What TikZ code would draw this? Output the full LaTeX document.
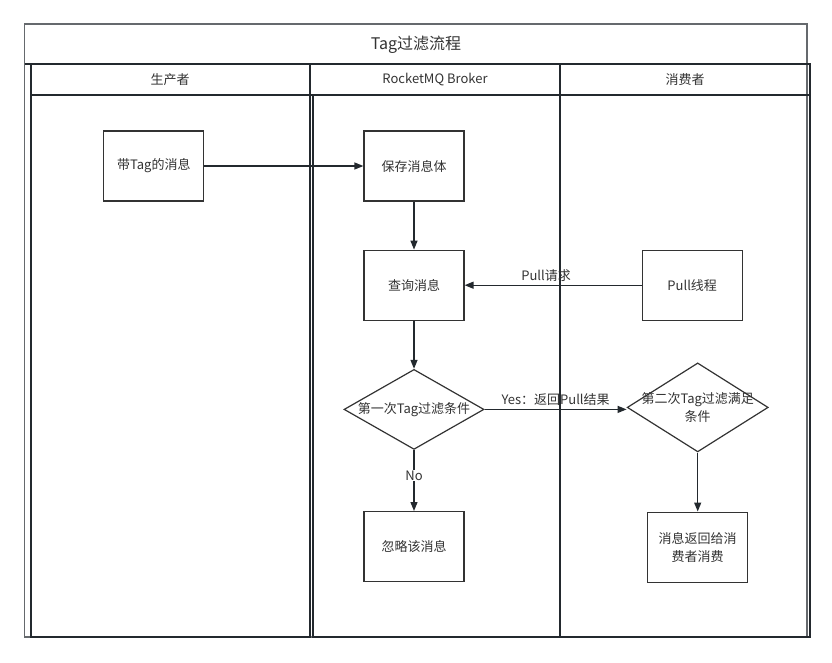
\documentclass[tikz,border=0pt]{standalone}
\usepackage{fontspec}
\setmainfont{Noto Sans CJK SC}
\usetikzlibrary{shapes,arrows.meta,positioning}
\definecolor{framecol}{HTML}{23292E}
\definecolor{textcol}{HTML}{333333}

\begin{document}
\begin{tikzpicture}[x=1pt, y=-1pt, node distance=50pt,
        font=\fontsize{13}{18}\selectfont, text=textcol,
        lane/.style={draw=framecol, line width=1.6pt},
        block/.style={rectangle, draw=textcol, line width=1.2pt, fill=white, minimum width=100pt, minimum height=70pt, align=center},
        decision/.style={diamond, draw=textcol, line width=1.2pt, fill=white, minimum width=140pt, minimum height=80pt, inner xsep=-30pt, inner ysep=-10pt, align=center},
        line/.style={draw=framecol, line width=1.3pt, -{Triangle[length=9pt,width=7pt]}}]

        \useasboundingbox (0,0) rectangle (832,662);

        % pool and lanes
        \draw [lane, draw=framecol!70] (24.5,24) rectangle (807,637);
        \draw [lane] (24.5,64) -- (807,64);
        \draw [lane] (31,64) rectangle (310,637);
        \draw [lane] (31,95) -- (810,95);
        \draw [lane] (310,64) rectangle (560,95);
        \draw [lane] (313,95) rectangle (560,637);
        \draw [lane] (560,64) rectangle (810,637);
        \node (title) at (416,45) {\fontsize{16}{20}\selectfont Tag过滤流程};
        \node (lane1) at (170,80) {生产者};
        \node (lane2) at (435,80) {RocketMQ Broker};
        \node (lane3) at (685,80) {消费者};

        \node [block] (save) at (414,166) {保存消息体};
        \node [block, left=159pt of save] (tagmsg) {带Tag的消息};
        \node [block, below=48pt of save] (query) {查询消息};
        \node [block, right=177pt of query] (pull) {Pull线程};
        \node [decision, below=48pt of query] (filter1) {第一次Tag过滤条件};
        \node [block, below=61pt of filter1] (ignore) {忽略该消息};
        \node [decision, right=142pt of filter1, minimum width=141pt, minimum height=89pt, yshift=2pt] (filter2) {第二次Tag过滤满足\\条件};
        \node [block, below=59pt of filter2] (consume) {消息返回给消\\费者消费};

        \path [line] (tagmsg) -- (save);
        \path [line] (save) -- (query);
        \path [line] (pull) -- node [above, pos=0.54] {Pull请求} (query);
        \path [line] (query) -- (filter1);
        \path [line] (filter1) -- node [above] {Yes：返回Pull结果} (filter1 -| filter2.west);
        \path [line] (filter1) -- node [pos=0.42, fill=white, inner sep=1pt] {No} (ignore);
        \path [line] (filter2) -- (consume);
    \end{tikzpicture}
\end{document}
